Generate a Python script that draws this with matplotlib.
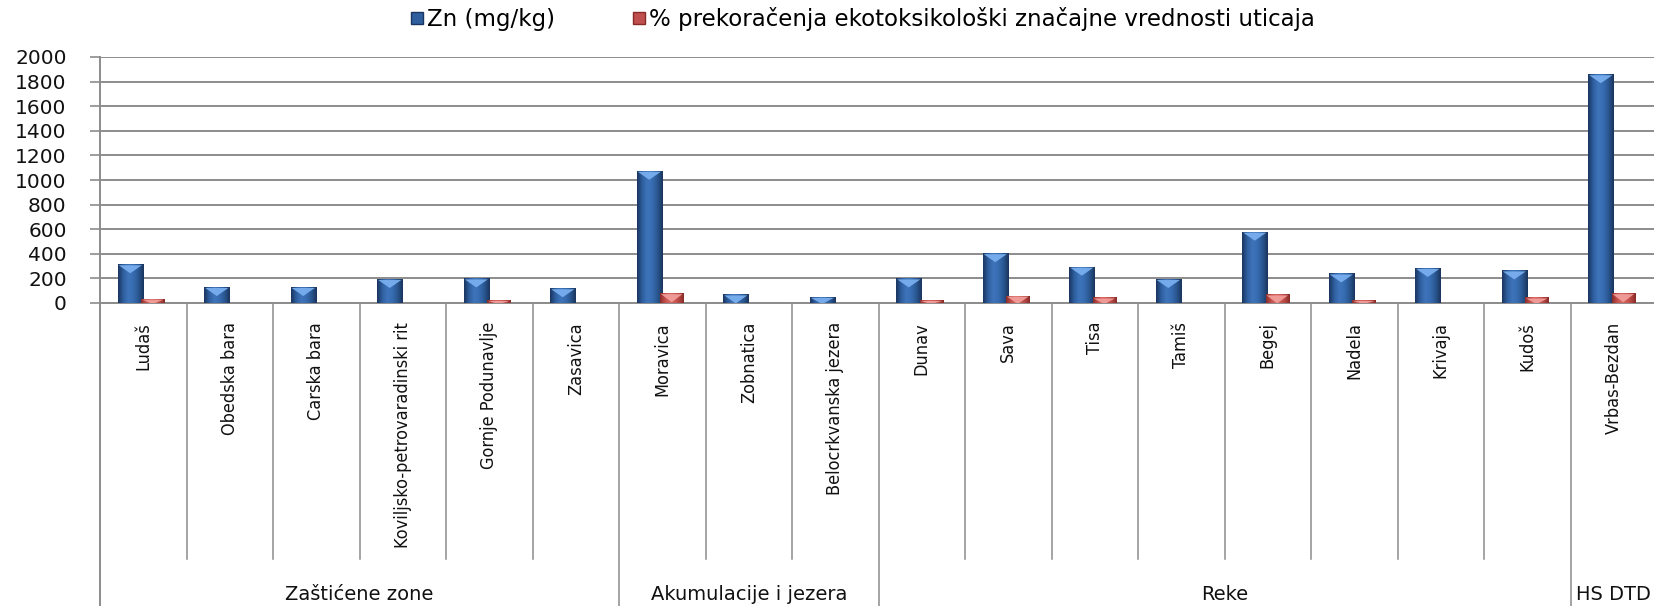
import matplotlib
matplotlib.use("Agg")
import matplotlib.pyplot as plt
import numpy as np
from matplotlib.colors import LinearSegmentedColormap
from matplotlib.patches import Polygon
from matplotlib.lines import Line2D
import matplotlib.transforms as mtransforms
from matplotlib import font_manager

categories = ["Ludaš", "Obedska bara", "Carska bara", "Koviljsko-petrovaradinski rit",
              "Gornje Podunavlje", "Zasavica", "Moravica", "Zobnatica",
              "Belocrkvanska jezera", "Dunav", "Sava", "Tisa", "Tamiš", "Begej",
              "Nadela", "Krivaja", "Kudoš", "Vrbas-Bezdan"]
zn_values = [315, 130, 130, 195, 200, 120, 1075, 70, 50, 200, 405, 295, 195, 580, 240, 285, 265, 1860]
pct_values = [35, 0, 0, 0, 25, 0, 80, 0, 0, 25, 60, 45, 0, 70, 25, 0, 45, 80]
group_names = ["Zaštićene zone", "Akumulacije i jezera", "Reke", "HS DTD"]
group_sizes = [6, 3, 8, 1]
series_names = ["Zn (mg/kg)", "% prekoračenja ekotoksikološki značajne vrednosti uticaja"]
yticks = [0, 200, 400, 600, 800, 1000, 1200, 1400, 1600, 1800, 2000]

# choose a condensed face for the rotated labels if available
cond_fp = font_manager.FontProperties(family="DejaVu Sans", stretch="condensed")
cond_file = font_manager.findfont(cond_fp)
is_condensed = "Condensed" in cond_file
label_size = 13 if is_condensed else 11.5

W, H = 1654, 606
fig = plt.figure(figsize=(W / 100, H / 100), dpi=100)
ax_left, ax_bottom_px, ax_top_px = 100, 303, 57
ax_right_px = 1657
ax = fig.add_axes([ax_left / W, 1 - ax_bottom_px / H, (ax_right_px - ax_left) / W,
                   (ax_bottom_px - ax_top_px) / H])
n = len(categories)
x = np.arange(n)
ax.set_xlim(-0.5, n - 0.5)
ax.set_ylim(0, 2000)

blue_cmap = LinearSegmentedColormap.from_list(
    "b", ["#1a355f", "#2f5f9f", "#3e74bb", "#376cb0", "#2a5690", "#1a345c"])
red_cmap = LinearSegmentedColormap.from_list(
    "r", ["#8a2d2a", "#c24f4b", "#d96561", "#cf5a56", "#b44642", "#872b28"])

bw_blue, bw_red = 0.29, 0.27
bars_b = ax.bar(x - 0.15, zn_values, width=bw_blue, color="#2f5f9f", zorder=3)
bars_r = ax.bar(x + 0.11, pct_values, width=bw_red, color="#c0504d", zorder=3)

grad = np.linspace(0, 1, 64).reshape(1, -1)
for bars, cmap, tri_col in [(bars_b, blue_cmap, "#7cb2f2"), (bars_r, red_cmap, "#f3a19d")]:
    for b in bars:
        h = b.get_height()
        if h <= 0:
            continue
        x0, w = b.get_x(), b.get_width()
        im = ax.imshow(grad, extent=[x0, x0 + w, 0, h], aspect="auto", cmap=cmap,
                       zorder=4, interpolation="bicubic")
        im.set_clip_path(b)
        # top bevel triangle, derived from the bar geometry
        p0 = ax.transData.transform((x0, h))
        p1 = ax.transData.transform((x0 + w, h))
        depth = min(8, p0[1] - ax.transData.transform((x0, 0))[1])
        pts_disp = np.array([[p0[0] + 1, p0[1] - 1], [p1[0] - 1, p1[1] - 1],
                             [(p0[0] + p1[0]) / 2, p0[1] - 1 - depth]])
        pts = ax.transData.inverted().transform(pts_disp)
        ax.add_patch(Polygon(pts, closed=True, facecolor=tri_col, edgecolor="none",
                             zorder=5, alpha=0.9))

# grid and axes styling
ax.set_yticks(yticks)
ax.set_yticklabels([str(v) for v in yticks], fontsize=14.5, family="DejaVu Sans", color="#111111")
ax.yaxis.grid(True, color="#8c8c8c", linewidth=1.4, zorder=0)
ax.set_axisbelow(True)
ax.tick_params(axis="y", length=7, width=1.2, color="#8c8c8c", pad=17)
ax.tick_params(axis="x", length=0, labelbottom=False)
for s in ["top", "right"]:
    ax.spines[s].set_visible(False)
ax.spines["bottom"].set_color("#8c8c8c")
ax.spines["bottom"].set_linewidth(1.4)
ax.spines["left"].set_visible(False)

trans = mtransforms.blended_transform_factory(ax.transData, ax.transAxes)
ax_h = ax_bottom_px - ax_top_px
cat_line_bottom = (ax_bottom_px - 559) / ax_h
grp_line_bottom = (ax_bottom_px - H) / ax_h
label_top = (ax_bottom_px - 322) / ax_h
group_label_y = (ax_bottom_px - 595) / ax_h

# left axis line extends to figure bottom
ax.plot([-0.5, -0.5], [1, grp_line_bottom], transform=trans, color="#8c8c8c",
        lw=1.4, clip_on=False, zorder=6)

group_bounds = np.cumsum(group_sizes)[:-1]
for i in range(1, n):
    bottom = grp_line_bottom if i in group_bounds else cat_line_bottom
    ax.plot([i - 0.5, i - 0.5], [0, bottom], transform=trans, color="#8c8c8c",
            lw=1.1, clip_on=False)

for i, c in enumerate(categories):
    ax.text(i, label_top, c, rotation=90, ha="center", va="top", transform=trans,
            fontsize=label_size, family="DejaVu Sans", stretch="condensed", color="#111111")

start = 0
for g, sz in zip(group_names, group_sizes):
    center = start + sz / 2 - 0.5
    ax.text(center, group_label_y, g, ha="center", va="center", transform=trans,
            fontsize=14, family="DejaVu Sans", color="#111111")
    start += sz

handles = [Line2D([], [], marker="s", linestyle="none", markersize=9,
                  markerfacecolor="#2f5f9f", markeredgecolor="#1a355f"),
           Line2D([], [], marker="s", linestyle="none", markersize=9,
                  markerfacecolor="#c0504d", markeredgecolor="#872b28")]
fig.legend(handles, series_names, loc="center", bbox_to_anchor=(0.521, 0.968), ncol=2,
           frameon=False, prop={"family": "DejaVu Sans", "size": 16.5},
           handlelength=0.7, handletextpad=0.1, columnspacing=3.3)

fig.savefig("out.png", dpi=100, facecolor="white")
